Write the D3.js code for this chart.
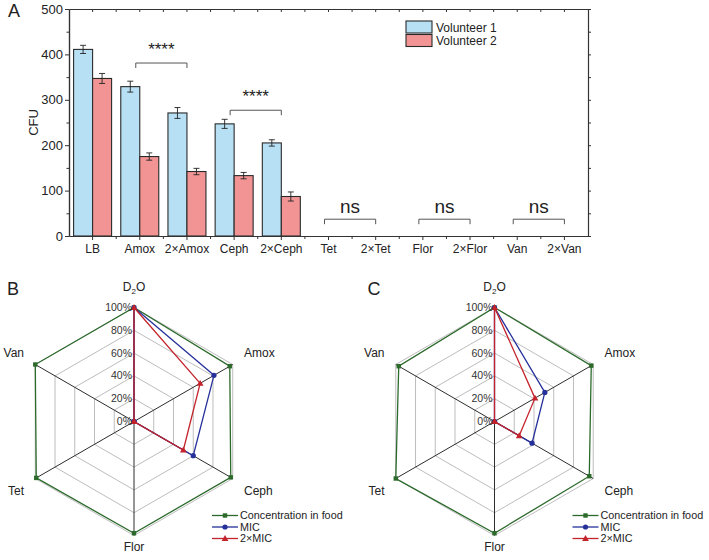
<!DOCTYPE html>
<html><head><meta charset="utf-8">
<script src="https://cdn.jsdelivr.net/npm/d3@7"></script>
<style>
body{margin:0;background:#fff;}
svg{font-family:"Liberation Sans",Arial,sans-serif;}
</style></head>
<body>
<svg id="chart" width="709" height="560"></svg>
<script>
// ---------- Data ----------
const categories = ["LB","Amox","2×Amox","Ceph","2×Ceph","Tet","2×Tet","Flor","2×Flor","Van","2×Van"];
const seriesNames = ["Volunteer 1","Volunteer 2"];
const volunteer1 = [411,329,271,247,205,0,0,0,0,0,0];
const volunteer1Err = [9,12,12,10,7,0,0,0,0,0,0];
const volunteer2 = [347,175,142,133,87,0,0,0,0,0,0];
const volunteer2Err = [11,8,7,7,10,0,0,0,0,0,0];
const yTicks = [0,100,200,300,400,500];
const brackets = [["Amox","2×Amox","****"],["Ceph","2×Ceph","****"],["Tet","2×Tet","ns"],["Flor","2×Flor","ns"],["Van","2×Van","ns"]];
const bracketLevels = [381,277,37,37,37];

const radarAxes = ["D2O","Amox","Ceph","Flor","Tet","Van"];
const radarTicks = [0,20,40,60,80,100];
const radarSeries = ["Concentration in food","MIC","2×MIC"];
const foodB = [100,97,98,98,99,100];
const micB = [100,81,60,0,0,0];
const mic2B = [100,67,50,0,0,0];
const foodC = [100,98,96,98,100,97];
const micC = [100,51,38,0,0,0];
const mic2C = [100,41,25,0,0,0];

// ---------- Styles ----------
const barColors = ["#b8e0f4","#f29494"];
const radarColors = ["#2b6a2b","#25309a","#c4232b"];
const svg = d3.select("#chart");
const axisColor = "#333";

// ---------- Panel A ----------
const A = {left:69,right:588,top:9,bottom:236};
const x = d3.scaleBand().domain(categories).range([A.left,A.right]).padding(0);
const xs = d3.scaleBand().domain(seriesNames).range([-19,19]).padding(0);
const y = d3.scaleLinear().domain([0,500]).range([A.bottom,A.top]);
const gA = svg.append("g");

const barData = [];
categories.forEach((c,i)=>{
  barData.push({c,s:seriesNames[0],v:volunteer1[i],e:volunteer1Err[i],k:0});
  barData.push({c,s:seriesNames[1],v:volunteer2[i],e:volunteer2Err[i],k:1});
});
const bd = barData.filter(d=>d.v>0);
const bx = d=>x(d.c)+x.bandwidth()/2+xs(d.s);
gA.selectAll("rect.bar").data(bd).join("rect")
  .attr("x",bx).attr("width",xs.bandwidth())
  .attr("y",d=>y(d.v)).attr("height",d=>y(0)-y(d.v))
  .attr("fill",d=>barColors[d.k]).attr("stroke","#2a2a2a").attr("stroke-width",1.1);
// error bars
const eb = gA.selectAll("g.eb").data(bd).join("g").attr("stroke","#222").attr("stroke-width",0.9);
eb.append("line").attr("x1",d=>bx(d)+xs.bandwidth()/2).attr("x2",d=>bx(d)+xs.bandwidth()/2)
  .attr("y1",d=>y(d.v+d.e)).attr("y2",d=>y(d.v-d.e));
[1,-1].forEach(sg=>{
  eb.append("line").attr("x1",d=>bx(d)+xs.bandwidth()/2-3).attr("x2",d=>bx(d)+xs.bandwidth()/2+3)
    .attr("y1",d=>y(d.v+sg*d.e)).attr("y2",d=>y(d.v+sg*d.e));
});

// axes
const minorY = d3.range(50,500,100);
const styleAxis = g=>{g.selectAll("path,line").attr("stroke",axisColor);g.select(".domain").attr("stroke-width",1.2);g.selectAll("text").attr("fill","#222");};
gA.append("g").attr("transform",`translate(${A.left},0)`).call(d3.axisLeft(y).tickValues(yTicks).tickSize(4).tickPadding(2).tickSizeOuter(0))
  .call(g=>g.selectAll("text").attr("font-size",13)).call(styleAxis);
gA.append("g").attr("transform",`translate(${A.left},0)`).call(d3.axisLeft(y).tickValues(minorY).tickSize(2.5).tickFormat("").tickSizeOuter(0)).call(styleAxis);
gA.append("g").attr("transform",`translate(${A.right},0)`).call(d3.axisLeft(y).tickValues(yTicks.concat(minorY)).tickSize(-3).tickFormat("").tickSizeOuter(0)).call(styleAxis);
gA.append("g").attr("transform",`translate(0,${A.bottom})`).call(d3.axisBottom(x).tickSize(4).tickPadding(4).tickSizeOuter(0))
  .call(g=>g.selectAll("text").attr("font-size",12)).call(styleAxis);
const bounds = categories.slice(1).map(c=>x(c));
gA.append("g").selectAll("line").data(bounds).join("line").attr("x1",d=>d).attr("x2",d=>d).attr("y1",A.bottom).attr("y2",A.bottom+3).attr("stroke",axisColor);
gA.append("g").attr("transform",`translate(0,${A.top})`).call(d3.axisTop(x).tickSize(-3).tickFormat("").tickSizeOuter(0)).call(styleAxis);
gA.append("g").selectAll("line").data(bounds).join("line").attr("x1",d=>d).attr("x2",d=>d).attr("y1",A.top).attr("y2",A.top+3).attr("stroke",axisColor);

gA.append("text").attr("transform",`translate(38,${(A.top+A.bottom)/2}) rotate(-90)`).attr("text-anchor","middle")
  .attr("font-size",13).attr("fill","#222").text("CFU");

// brackets
brackets.forEach((b,i)=>{
  const x1 = x(b[0])+x.bandwidth()/2-4, x2 = x(b[1])+x.bandwidth()/2;
  const yy = y(bracketLevels[i]);
  gA.append("path").attr("d",`M${x1},${yy+5}V${yy}H${x2}V${yy+5}`).attr("fill","none").attr("stroke","#555").attr("stroke-width",1);
  const isNs = b[2]==="ns";
  gA.append("text").attr("x",(x1+x2)/2).attr("y",isNs?yy-6:yy-8).attr("text-anchor","middle")
    .attr("font-size",isNs?19:17).attr("fill","#222").text(b[2]);
});

// legend A
const lgA = gA.append("g").attr("transform","translate(406,21)");
seriesNames.forEach((s,i)=>{
  lgA.append("rect").attr("x",0).attr("y",i*13.5).attr("width",26).attr("height",12).attr("fill",barColors[i]).attr("stroke","#2a2a2a").attr("stroke-width",1.1);
  lgA.append("text").attr("x",30).attr("y",i*13.5+10.5).attr("font-size",12).attr("fill","#222").text(s);
});
svg.append("text").attr("x",8).attr("y",17).attr("font-size",18).attr("fill","#222").text("A");

// ---------- Radar panels ----------
const R = 114;
const r = d3.scaleLinear().domain([0,100]).range([0,R]);
const ang = d3.scalePoint().domain(radarAxes).range([0,2*Math.PI*5/6]);
const pt = (a,v)=>[Math.sin(ang(a))*r(v), -Math.cos(ang(a))*r(v)];

function radar(cx,cy,label,data){
  const g = svg.append("g").attr("transform",`translate(${cx},${cy})`);
  const line = d3.lineRadial().angle((d,i)=>ang(radarAxes[i])).radius(d=>r(d)).curve(d3.curveLinearClosed);
  g.selectAll("path.ring").data(radarTicks.slice(1)).join("path")
    .attr("d",t=>line(radarAxes.map(()=>t))).attr("fill","none").attr("stroke","#bdbdbd").attr("stroke-width",1);
  g.selectAll("line.spoke").data(radarAxes).join("line")
    .attr("x1",0).attr("y1",0).attr("x2",a=>pt(a,100)[0]).attr("y2",a=>pt(a,100)[1])
    .attr("stroke","#2d2d2d").attr("stroke-width",1);
  data.forEach((vals,k)=>{
    g.append("path").attr("d",line(vals)).attr("fill","none").attr("stroke",radarColors[k]).attr("stroke-width",1.3);
    const pts = radarAxes.map((a,i)=>pt(a,vals[i]));
    const m = g.append("g").attr("fill",radarColors[k]);
    pts.forEach(p=>{
      if(k===0) m.append("rect").attr("x",p[0]-2.2).attr("y",p[1]-2.2).attr("width",4.4).attr("height",4.4);
      else if(k===1) m.append("circle").attr("cx",p[0]).attr("cy",p[1]).attr("r",2.6);
      else m.append("path").attr("d",d3.symbol(d3.symbolTriangle,20)()).attr("transform",`translate(${p[0]},${p[1]+0.5})`);
    });
  });
  g.selectAll("text.tick").data(radarTicks).join("text")
    .attr("x",-2).attr("y",t=>-r(t)+3.5).attr("text-anchor","end").attr("font-size",10.5).attr("fill","#333")
    .text(t=>t+"%");
  radarAxes.forEach(a=>{
    if(a==="D2O"){
      const t = g.append("text").attr("x",0).attr("y",-R-17).attr("text-anchor","middle").attr("font-size",12).attr("fill","#222");
      t.append("tspan").text("D");
      t.append("tspan").attr("font-size",8).attr("dy",3).text("2");
      t.append("tspan").attr("dy",-3).text("O");
    } else if(a==="Flor"){
      g.append("text").attr("x",0).attr("y",R+15).attr("text-anchor","middle").attr("font-size",12).attr("fill","#222").text(a);
    } else {
      const p = pt(a,100);
      const right = p[0]>0;
      g.append("text").attr("x",right?110:-110).attr("y",p[1]<0?-65:73)
        .attr("text-anchor",right?"start":"end").attr("font-size",12).attr("fill","#222").text(a);
    }
  });
  const lg = g.append("g").attr("transform","translate(78,94)");
  radarSeries.forEach((s,k)=>{
    const yy = k*11.5;
    lg.append("line").attr("x1",0).attr("x2",26).attr("y1",yy).attr("y2",yy).attr("stroke",radarColors[k]).attr("stroke-width",1.3);
    if(k===0) lg.append("rect").attr("x",10.8).attr("y",yy-2.2).attr("width",4.4).attr("height",4.4).attr("fill",radarColors[k]);
    else if(k===1) lg.append("circle").attr("cx",13).attr("cy",yy).attr("r",2.6).attr("fill",radarColors[k]);
    else lg.append("path").attr("d",d3.symbol(d3.symbolTriangle,20)()).attr("transform",`translate(13,${yy+0.5})`).attr("fill",radarColors[k]);
    lg.append("text").attr("x",28).attr("y",yy+3.8).attr("font-size",10.8).attr("fill","#222").text(s);
  });
  svg.append("text").attr("x",cx-127).attr("y",295).attr("font-size",18).attr("fill","#222").text(label);
}
radar(134,421.5,"B",[foodB,micB,mic2B]);
radar(494.5,421.5,"C",[foodC,micC,mic2C]);
</script>
</body></html>
